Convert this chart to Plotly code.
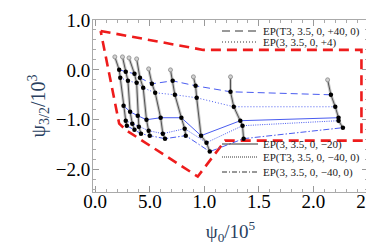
import plotly.graph_objects as go

# ---------------- data (x in 10^5, y in 10^3) ----------------
track_top_x = [0.18, 0.25, 0.31, 0.38, 0.49, 0.69, 0.90, 1.24, 2.13]
track_top_y = [0.26, 0.26, 0.24, 0.22, 0.02, 0.00, -0.14, -0.14, -0.20]

ep_t3_p40_x = [0.22, 0.28, 0.36, 0.41, 0.52, 0.71, 0.92, 1.24, 2.16]
ep_t3_p40_y = [0.00, -0.04, -0.08, -0.16, -0.28, -0.22, -0.32, -0.44, -0.50]

ep_p4_x = [0.23, 0.30, 0.38, 0.44, 0.55, 0.73, 0.93, 1.27, 2.20]
ep_p4_y = [-0.16, -0.22, -0.26, -0.36, -0.46, -0.50, -0.56, -0.74, -0.74]

ep_m20_x = [0.26, 0.32, 0.39, 0.47, 0.60, 0.79, 0.97, 1.33, 2.23]
ep_m20_y = [-0.72, -0.84, -0.92, -1.00, -0.96, -0.96, -1.32, -1.02, -0.96]

ep_t3_m40_x = [0.28, 0.34, 0.40, 0.49, 0.62, 0.82, 1.02, 1.35, 2.23]
ep_t3_m40_y = [-1.02, -1.08, -1.14, -1.22, -1.28, -1.18, -1.46, -1.12, -1.02]

ep_m40_x = [0.29, 0.36, 0.42, 0.50, 0.64, 0.83, 1.05, 1.36, 2.27]
ep_m40_y = [-1.12, -1.20, -1.28, -1.32, -1.38, -1.32, -1.64, -1.38, -1.16]

region_x = [0.05, 0.99, 2.44, 2.44, 1.19, 0.94, 0.29, 0.22, 0.05]
region_y = [0.78, 0.40, 0.40, -1.42, -1.42, -2.14, -1.22, -1.08, 0.78]

x_tickvals = [0.0, 0.5, 1.0, 1.5, 2.0, 2.5]
x_ticktext = ["0.0", "5.0", "1.0", "1.5", "2.0", "2.5"]
y_tickvals = [1.0, 0.0, -1.0, -2.0]
y_ticktext = ["1.0", "0.0", "\u22121.0", "\u22122.0"]

legend_names = ["EP(T3, 3.5, 0, +40, 0)", "EP(3, 3.5, 0, +4)",
                "EP(3, 3.5, 0, \u221220)", "EP(T3, 3.5, 0, \u221240, 0)",
                "EP(3, 3.5, 0, \u221240, 0)"]

# ---------------- figure ----------------
series = [
    (ep_t3_p40_x, ep_t3_p40_y, "7px,4px", "8px,5px"),
    (ep_p4_x, ep_p4_y, "1px,2px", "1px,2px"),
    (ep_m20_x, ep_m20_y, "solid", "solid"),
    (ep_t3_m40_x, ep_t3_m40_y, "1px,1.3px", "1px,1px"),
    (ep_m40_x, ep_m40_y, "6px,2px,1.5px,2px", "5px,2px,1px,2px"),
]
BLUE = "#4a5cf0"
fig = go.Figure()

# red dashed region
fig.add_trace(go.Scatter(x=region_x, y=region_y, mode="lines",
                         line=dict(color="#ee1c1c", width=2.6, dash="10px,6px"),
                         showlegend=False, hoverinfo="skip"))

# blue connecting lines per series
for sx, sy, dash, _ in series:
    fig.add_trace(go.Scatter(x=sx, y=sy, mode="lines",
                             line=dict(color=BLUE, width=1, dash=dash),
                             showlegend=False, hoverinfo="skip"))

# tracks (gray halo + thin black line)
for i in range(len(track_top_x)):
    tx = [track_top_x[i]] + [s[0][i] for s in series]
    ty = [track_top_y[i]] + [s[1][i] for s in series]
    fig.add_trace(go.Scatter(x=tx, y=ty, mode="lines",
                             line=dict(color="rgba(150,150,150,0.5)", width=3),
                             showlegend=False, hoverinfo="skip"))
    fig.add_trace(go.Scatter(x=tx, y=ty, mode="lines",
                             line=dict(color="#333333", width=0.8),
                             showlegend=False, hoverinfo="skip"))

# gray top markers
fig.add_trace(go.Scatter(x=track_top_x, y=track_top_y, mode="markers",
                         marker=dict(size=4, color="#d0d0d0",
                                     line=dict(color="#999999", width=1)),
                         showlegend=False, hoverinfo="skip"))
# black markers
for sx, sy, _, _ in series:
    fig.add_trace(go.Scatter(x=sx, y=sy, mode="markers",
                             marker=dict(size=4.5, color="black"),
                             showlegend=False, hoverinfo="skip"))

# legend entries (black samples)
legend_keys = ["legend", "legend2", "legend3", "legend4", "legend5"]
for (sx, sy, _, ldash), name, key in zip(series, legend_names, legend_keys):
    fig.add_trace(go.Scatter(x=[None], y=[None], mode="lines", name=name,
                             line=dict(color="#333333", width=1, dash=ldash),
                             legend=key, hoverinfo="skip"))

W, H = 374, 245
L, R, T, B = 85, 14, 12, 61
pw, ph = W - L - R, H - T - B

def px2paper(px, py):
    return (px - L) / pw, (H - B - py) / ph

legend_pos = [(209, 23), (209, 34), (209, 136), (209, 149), (209, 164)]
leg_common = dict(bgcolor="rgba(0,0,0,0)", borderwidth=0, itemwidth=36,
                  xanchor="left", yanchor="middle",
                  font=dict(family="Liberation Serif", size=11, color="#222"))
legend_layout = {}
for key, (lx, ly) in zip(legend_keys, legend_pos):
    xx, yy = px2paper(lx, ly)
    legend_layout[key] = dict(x=xx, y=yy, **leg_common)

tickfont = dict(family="Liberation Serif", size=19, color="black")
axis_common = dict(showgrid=False, zeroline=False, showline=True,
                   linecolor="#aaaaaa", linewidth=1, mirror="ticks",
                   ticks="inside", ticklen=6, tickcolor="#999999", tickwidth=1,
                   tickfont=tickfont, automargin=False)

fig.update_layout(
    width=W, height=H,
    margin=dict(l=L, r=R, t=T, b=B, autoexpand=False),
    paper_bgcolor="white", plot_bgcolor="white",
    showlegend=True,
    **legend_layout,
    xaxis=dict(range=[-0.02, 2.5], tickvals=x_tickvals, ticktext=x_ticktext,
               ticklabelstandoff=-8,
               minor=dict(dtick=0.1, ticks="inside", ticklen=3,
                          tickcolor="#aaaaaa", showgrid=False),
               title=dict(text="\u03c8<sub>0</sub>/10<sup>5</sup>",
                          font=dict(family="Liberation Serif", size=19),
                          standoff=13),
               **axis_common),
    yaxis=dict(range=[-2.45, 1.0], tickvals=y_tickvals, ticktext=y_ticktext,
               ticklabelstandoff=-2,
               minor=dict(dtick=0.2, ticks="inside", ticklen=3,
                          tickcolor="#aaaaaa", showgrid=False),
               title=dict(text="\u03c8<sub>3/2</sub>/10<sup>3</sup>",
                          font=dict(family="Liberation Serif", size=20),
                          standoff=4),
               **axis_common),
)

fig.write_html("out.html")
